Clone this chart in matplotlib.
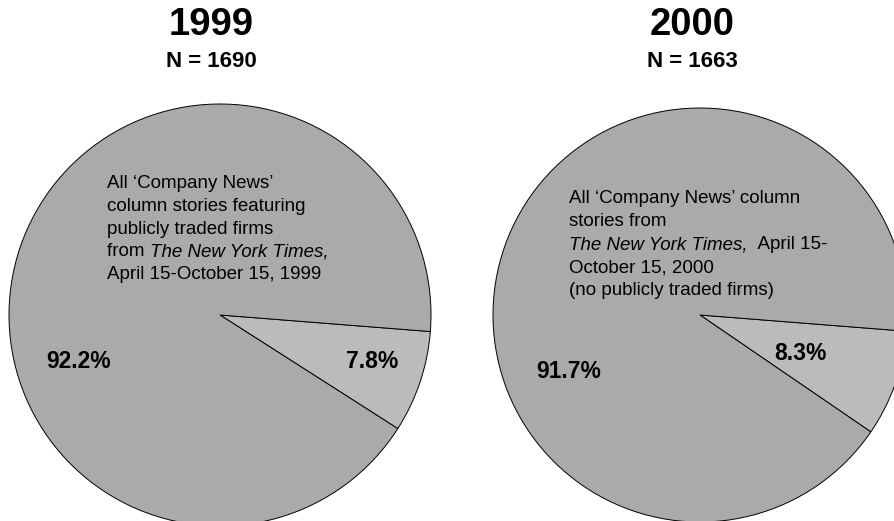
import matplotlib
matplotlib.use("Agg")
import matplotlib.pyplot as plt

# Share of 'Company News' column stories, by year
years = ["1999", "2000"]
counts = ["N = 1690", "N = 1663"]
small_share = [7.8, 8.3]
large_share = [92.2, 91.7]

W, H = 895, 521
plt.rcParams["font.family"] = ["Liberation Sans", "DejaVu Sans"]

fig = plt.figure(figsize=(W / 100, H / 100), dpi=100)
ax = fig.add_axes([0, 0, 1, 1])

# pie layout in pixel units (y measured from the top)
centers = [(220, 315), (700, 315)]
radii = [211, 207]
title_x = [211, 692]
big_col = "#aaaaaa"
small_col = "#bbbbbb"

for i in range(2):
    cx, cy = centers[i]
    ax.pie([small_share[i], large_share[i]],
           colors=[small_col, big_col],
           startangle=-4.5, counterclock=False,
           center=(cx, H - cy), radius=radii[i],
           wedgeprops=dict(edgecolor="black", linewidth=0.7),
           frame=True)

ax.set_xlim(0, W)
ax.set_ylim(0, H)
ax.set_aspect("equal")
ax.axis("off")


def py(y):
    return H - y


# titles
for i in range(2):
    ax.text(title_x[i], py(25), years[i], ha="center", va="center",
            fontsize=27.5, fontweight="bold")
    ax.text(title_x[i], py(61), counts[i], ha="center", va="center",
            fontsize=16, fontweight="bold")

# percentage labels
pct_fs = 16.5
ax.text(79, py(361), f"{large_share[0]}%", ha="center", va="center",
        fontsize=pct_fs, fontweight="bold")
ax.text(372, py(361), f"{small_share[0]}%", ha="center", va="center",
        fontsize=pct_fs, fontweight="bold")
ax.text(569, py(371), f"{large_share[1]}%", ha="center", va="center",
        fontsize=pct_fs, fontweight="bold")
ax.text(800, py(354), f"{small_share[1]}%", ha="center", va="center",
        fontsize=pct_fs, fontweight="bold")

fs = 13.5


def line(x, ybase, parts):
    """Draw a line of text made of (string, italic) runs on one baseline."""
    prev = None
    for s, it in parts:
        style = "italic" if it else "normal"
        if prev is None:
            prev = ax.text(x, py(ybase), s, ha="left", va="baseline",
                           fontsize=fs, fontstyle=style)
        else:
            prev = ax.annotate(s, xy=(1, 0), xycoords=prev,
                               ha="left", va="bottom",
                               fontsize=fs, fontstyle=style)


left_lines = [
    [("All \u2018Company News\u2019", False)],
    [("column stories featuring", False)],
    [("publicly traded firms", False)],
    [("from ", False), ("The New York Times,", True)],
    [("April 15-October 15, 1999", False)],
]
right_lines = [
    [("All \u2018Company News\u2019 column", False)],
    [("stories from", False)],
    [("The New York Times,", True), ("  April 15-", False)],
    [("October 15, 2000", False)],
    [("(no publicly traded firms)", False)],
]

for k, parts in enumerate(left_lines):
    line(107, 188 + 22.8 * k, parts)
for k, parts in enumerate(right_lines):
    line(569, 203 + 23 * k, parts)

fig.savefig("out.png", dpi=100)
